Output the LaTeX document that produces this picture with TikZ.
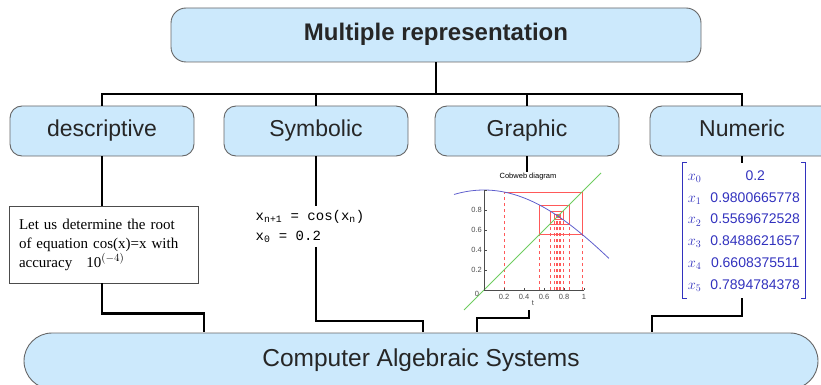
\documentclass[tikz,border=0pt]{standalone}
\usepackage{fontspec}
\setmainfont{Liberation Serif}
\setsansfont{Liberation Sans}
\setmonofont{Liberation Mono}
\definecolor{boxblue}{RGB}{204,233,252}
\definecolor{numblue}{RGB}{50,50,190}
\definecolor{curveblue}{RGB}{95,95,205}
\definecolor{diaggreen}{RGB}{110,205,95}
\tikzset{
  viewnode/.style = {shape=rectangle, rounded corners=12pt,
                     draw=black!60, line width=0.9pt, fill=boxblue,
                     minimum width=184pt, minimum height=50pt,
                     text height=16pt, text depth=5pt,
                     font=\fontsize{23}{26}\sffamily, text=black!85},
  root/.style     = {viewnode, rounded corners=15pt, minimum width=530pt,
                     minimum height=54pt, font=\fontsize{24}{28}\sffamily\bfseries},
  base/.style     = {viewnode, rounded corners=28pt, minimum width=794pt,
                     minimum height=56pt, font=\fontsize{24.5}{28}\sffamily},
  link/.style     = {line width=2.2pt},
  cobred/.style   = {red!65, line width=0.5pt},
  ticklabel/.style = {font=\fontsize{7.5}{8}\sffamily, text=black!70, inner sep=1pt}
}

\begin{document}
\begin{tikzpicture}[x=1pt, y=-1pt]
  \useasboundingbox (0,0) rectangle (821,385);

  \node[root] (multi) at (436,35) {Multiple representation};
  \node[viewnode] (desc) at (102,131) {descriptive};
  \node[viewnode] (sym) at (316,131) {Symbolic};
  \node[viewnode] (graph) at (527,131) {Graphic};
  \node[viewnode] (num) at (742,131) {Numeric};
  \node[base] (cas) at (421,361) {Computer Algebraic Systems};

  % descriptive
  \node[draw=black!70, line width=0.8pt, fill=white, text width=169pt,
        inner xsep=10pt, minimum height=77pt, align=left,
        font=\fontsize{15}{19}\selectfont] (task) at (103.5,244.5)
    {\makebox[169pt][s]{Let us determine the root}\\
     \makebox[169pt][s]{of equation cos(x)=x with}\\
     accuracy\hspace{14pt}10$^{(-4)}$};

  % symbolic
  \node[font=\fontsize{14}{20}\ttfamily, align=left, inner sep=4pt] (rec) at (310,226.5)
    {x\textsubscript{n+1} = cos(x\textsubscript{n})\\x\textsubscript{0} = 0.2};

  % numeric
  \node[text=numblue, font=\fontsize{14}{21.8}\sffamily, minimum width=122pt,
        minimum height=135pt, inner sep=0pt] (vals) at (744,230.5)
    {\begin{tabular}{@{}l@{\hspace{9pt}}c@{}}
       $x_0$ & 0.2\\
       $x_1$ & 0.9800665778\\
       $x_2$ & 0.5569672528\\
       $x_3$ & 0.8488621657\\
       $x_4$ & 0.6608375511\\
       $x_5$ & 0.7894784378
     \end{tabular}};
  \draw[numblue, line width=0.8pt] ([xshift=4pt]vals.north west) -- (vals.north west)
    -- (vals.south west) -- ++(4pt,0);
  \draw[numblue, line width=0.8pt] ([xshift=-4pt]vals.north east) -- (vals.north east)
    -- (vals.south east) -- ++(-4pt,0);

  % graphic
  \coordinate (ptop) at (527,172);
  \coordinate (pbot) at (529,310);
  \begin{scope}[shift={(484,290)}, x=100pt, y=100pt]
    \foreach \a/\b/\c in {0.2/0.9801/0.5570, 0.9801/0.5570/0.8489,
                          0.5570/0.8489/0.6608, 0.8489/0.6608/0.7895,
                          0.6608/0.7895/0.7042, 0.7895/0.7042/0.7621,
                          0.7042/0.7621/0.7234, 0.7621/0.7234/0.7496,
                          0.7234/0.7496/0.7320, 0.7496/0.7320/0.7439,
                          0.7320/0.7439/0.7359} {
      \draw[cobred, dashed] (\a,0) -- (\a,\b);
      \draw[cobred] (\a,\b) -- (\b,\b) -- (\b,\c);
    }
    \draw[diaggreen, line width=0.8pt] (-0.2,-0.2) -- (1.17,1.17);
    \draw[curveblue, line width=0.8pt] plot[domain=-0.3:1.25, samples=40] (\x,{cos(\x r)});
    \draw[black!70, line width=0.5pt] (0,1) -- (0,0) -- (1,0);
    \foreach \t in {0.2,0.4,0.6,0.8,1} {
      \draw[black!70, line width=0.4pt] (\t,0) -- (\t,0.025);
      \node[ticklabel] at (\t,-0.07) {\t};
    }
    \foreach \t in {0.2,0.4,0.6,0.8,1} {
      \draw[black!70, line width=0.4pt] (0,\t) -- (0.025,\t);
    }
    \foreach \t in {0.2,0.4,0.6,0.8} {
      \node[ticklabel, anchor=east] at (-0.01,\t) {\t};
    }
    \node[ticklabel] at (-0.07,-0.04) {0};
    \node[ticklabel] at (0.49,-0.13) {t};
    \node[ticklabel, text=black] at (0.44,1.13) {Cobweb diagram};
  \end{scope}

  % links
  \coordinate (hub) at (436,94);
  \path (204,332) coordinate (in1) (423,332) coordinate (in2)
        (477,332) coordinate (in3) (652,332) coordinate (in4);
  \draw[link] (multi.south) -- (hub);
  \draw[link] (desc.north) |- (hub) -| (num.north);
  \draw[link] (sym.north) -- (sym.north |- hub);
  \draw[link] (graph.north) -- (graph.north |- hub);
  \draw[link] (desc.south) -- (desc.south |- task.north);
  \draw[link] (desc.south |- task.south) -- ++(0,30) -| (in1);
  \draw[link] (sym.south) -- (sym.south |- rec.north);
  \draw[link] (sym.south |- rec.south) -- ++(0,74) -| (in2);
  \draw[link] (graph.south) -- (ptop);
  \draw[link] (pbot) -- ++(0,8) -| (in3);
  \draw[link] (num.south) -- (num.south |- vals.north);
  \draw[link] (num.south |- vals.south) -- ++(0,18) -| (in4);
\end{tikzpicture}
\end{document}
